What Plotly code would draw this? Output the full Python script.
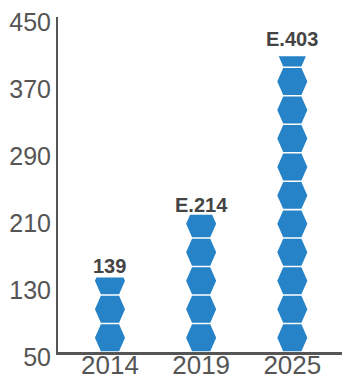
import plotly.graph_objects as go

# Data
years = ["2014", "2019", "2025"]
values = [139, 214, 403]
labels = ["139", "E.214", "E.403"]
y_ticks = [50, 130, 210, 290, 370, 450]

# Hexagon pictogram geometry (in axis units)
BASE = 50          # baseline of the value axis
STEP = 34          # value units covered by one hexagon
GAP = 1.8          # white gap between stacked hexagons
HALF_W = 0.165     # half width at the side points
HALF_FLAT = 0.10   # half width of the flat top/bottom

BLUE = "#2783c8"
AXIS = "#555555"
FONT = "Liberation Sans Narrow, Liberation Sans, Arial, sans-serif"


def hexagon(cx, y0, y1):
    ym = (y0 + y1) / 2
    return [(cx - HALF_FLAT, y0), (cx + HALF_FLAT, y0), (cx + HALF_W, ym),
            (cx + HALF_FLAT, y1), (cx - HALF_FLAT, y1), (cx - HALF_W, ym)]


def clip_below(poly, ytop):
    """Keep the part of a polygon that lies at or below ytop."""
    out = []
    n = len(poly)
    for i in range(n):
        p, q = poly[i], poly[(i + 1) % n]
        p_in, q_in = p[1] <= ytop, q[1] <= ytop
        if p_in:
            out.append(p)
        if p_in != q_in:
            t = (ytop - p[1]) / (q[1] - p[1])
            out.append((p[0] + t * (q[0] - p[0]), ytop))
    return out


fig = go.Figure()

for i, v in enumerate(values):
    xs, ys = [], []
    k = 0
    while BASE + k * STEP < v:
        y0 = BASE + k * STEP + GAP / 2
        y1 = y0 + STEP - GAP
        poly = clip_below(hexagon(i, y0, y1), v)
        if len(poly) >= 3:
            xs += [p[0] for p in poly] + [poly[0][0], None]
            ys += [p[1] for p in poly] + [poly[0][1], None]
        k += 1
    fig.add_trace(go.Scatter(
        x=xs, y=ys, mode="lines", fill="toself", fillcolor=BLUE,
        line=dict(width=0, color=BLUE), hoverinfo="skip", showlegend=False,
    ))

label_shift = [-2, -3, 4]
for i, (v, t) in enumerate(zip(values, labels)):
    fig.add_annotation(
        x=i, y=v, text=t, showarrow=False, yanchor="bottom", yshift=label_shift[i],
        font=dict(family="Liberation Sans, Arial, sans-serif", size=20,
                  color="#444444", weight="bold"),
    )

fig.update_xaxes(
    range=[-0.57, 2.545], tickvals=list(range(len(years))), ticktext=years,
    showline=True, linecolor=AXIS, linewidth=2.5, showgrid=False, zeroline=False,
    ticks="", tickfont=dict(family=FONT, size=26, color=AXIS), fixedrange=True,
    automargin=False, ticklabelstandoff=-12, ticklabeloverflow="allow",
)
fig.update_yaxes(
    range=[50, 450], tickvals=y_ticks, showline=True, linecolor=AXIS, linewidth=2,
    showgrid=False, zeroline=False, ticks="", ticklabelshift=5,
    tickfont=dict(family=FONT, size=25, color=AXIS), fixedrange=True,
    automargin=False, ticklabeloverflow="allow",
)
fig.update_layout(
    width=342, height=379, margin=dict(l=58, r=0, t=17, b=27),
    paper_bgcolor="white", plot_bgcolor="white", showlegend=False,
)

fig.write_html("out.html", config={"displayModeBar": False})
